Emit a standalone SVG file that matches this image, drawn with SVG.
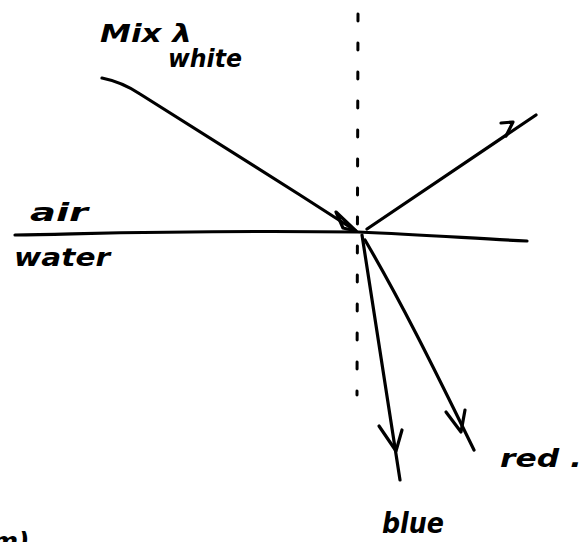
<svg xmlns="http://www.w3.org/2000/svg" width="587" height="542" viewBox="0 0 587 542">
<style>
.ray{fill:none;stroke:#000;stroke-width:3.2;stroke-linecap:round;stroke-linejoin:round}
.head{fill:none;stroke:#000;stroke-width:3.2;stroke-linecap:round;stroke-linejoin:round}
.norm{fill:none;stroke:#000;stroke-width:3;stroke-dasharray:7 22;stroke-linecap:round}
.lbl{font-family:"DejaVu Sans",sans-serif;font-style:italic;font-weight:bold;font-size:25px;fill:#000}
</style>
<rect width="587" height="542" fill="#fff"/>
<g id="normal">
<path class="norm" d="M358 14 L357 395"/>
</g>
<g id="interface">
<path class="ray" d="M15 235 C120 233 200 230 358 232 C430 235 480 239 527 241"/>
</g>
<g id="labels">
<text id="mix" class="lbl" x="100" y="42" textLength="92" lengthAdjust="spacingAndGlyphs">Mix λ</text>
<text id="white" class="lbl" x="168" y="67" textLength="74" lengthAdjust="spacingAndGlyphs">white</text>
<text id="air" class="lbl" x="30" y="221" textLength="58" lengthAdjust="spacingAndGlyphs">air</text>
<text id="water" class="lbl" x="14" y="266" textLength="96" lengthAdjust="spacingAndGlyphs">water</text>
<text id="red" class="lbl" x="500" y="467" textLength="82" lengthAdjust="spacingAndGlyphs">red .</text>
<text id="blue" class="lbl" x="382" y="533" textLength="62" lengthAdjust="spacingAndGlyphs" style="font-size:28px">blue</text>
<text id="frag" class="lbl" x="-8" y="550">m)</text>
</g>
<g id="connectors">
<path id="incident" class="ray" d="M102 78 Q122 82 140 94 L300 195 L356 231"/>
<path class="head" d="M336 212 L356 231 L343 228 Z" fill="#000"/>
<path id="reflected" class="ray" d="M367 229 L536 115"/>
<path class="head" d="M501 123 L513 122 L506 136"/>
<path id="blue-ray" class="ray" d="M362 235 L400 480"/>
<path class="head" d="M379 426 L396 451 L402 430"/>
<path id="red-ray" class="ray" d="M365 240 C400 300 430 360 474 450"/>
<path class="head" d="M446 412 L461 432 L465 410"/>
</g>
</svg>
